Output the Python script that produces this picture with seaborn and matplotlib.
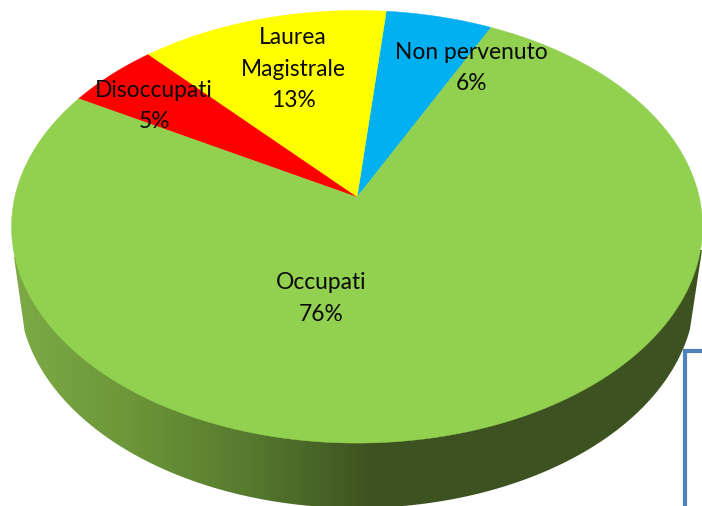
import numpy as np
import matplotlib
matplotlib.use("Agg")
import matplotlib.pyplot as plt
from matplotlib.colors import LinearSegmentedColormap
from matplotlib.patches import Polygon, Rectangle
import seaborn as sns

categories = ["Non pervenuto", "Laurea\nMagistrale", "Disoccupati", "Occupati"]
shares = [5.7, 13.3, 5.0, 76.0]
slice_colors = ["#00B0F0", "#FFFF00", "#FF0000", "#92D050"]

sns.set_theme(style="white")
plt.rcParams["font.family"] = ["Lato", "DejaVu Sans"]

W, H = 702, 506
fig = plt.figure(figsize=((W + 0.01) / 100, (H + 0.01) / 100), dpi=100, facecolor="white")
ax = fig.add_axes([0, 0, 1, 1])

palette = sns.color_palette(slice_colors)
wedges, _ = ax.pie(shares, colors=palette, startangle=63.9, counterclock=True)

# top face: projective view of the unit disc
CX, CY, RX, RY = 357.0, 226.8, 345.5, 216.3
APEX = (CY - 197.2) / RY


def project(theta_deg):
    t = np.radians(np.atleast_1d(theta_deg))
    x, y = np.cos(t), np.sin(t)
    d = 1 + APEX * y
    px = x * np.sqrt(1 - APEX ** 2) / d
    py = (y + APEX) / d
    return CX + RX * px, (H - CY) + RY * py


top_patches = []
for w, col in zip(wedges, palette):
    th = np.linspace(w.theta1, w.theta2, 400)
    xs, ys = project(th)
    xs = np.r_[CX, xs]
    ys = np.r_[H - CY + RY * APEX, ys]
    top_patches.append((np.c_[xs, ys], col))
    w.remove()

# side wall with horizontal gradient
BX, BY, BRX, BRY = 357.0, 292.0, 338.0, 216.0
t = np.radians(np.linspace(190.5, 350.0, 500))
wall = np.c_[BX + BRX * np.cos(t), (H - BY) + BRY * np.sin(t)]
wall = np.vstack([[14, H - 257], wall, [702, H - 250]])
wall_cmap = LinearSegmentedColormap.from_list(
    "wall",
    [(0.0, "#7DAA46"), (0.17, "#6C9639"), (0.34, "#577A2E"),
     (0.52, "#3D5221"), (1.0, "#3D5221")],
)
img = ax.imshow(np.linspace(0, 1, 700)[None, :], extent=(12, 702, 0, H),
                aspect="auto", cmap=wall_cmap, zorder=1, interpolation="bilinear")
clip = Polygon(wall, closed=True, transform=ax.transData, facecolor="none", edgecolor="none")
ax.add_patch(clip)
img.set_clip_path(clip)

for pts, col in top_patches:
    ax.add_patch(Polygon(pts, closed=True, facecolor=col, edgecolor=col, lw=0.3, zorder=2))

# blue frame of a neighbouring shape, cut by the image edge
ax.add_patch(Rectangle((685, -20), 60, H - 351 + 20, facecolor="none",
                       edgecolor="#4F81BD", lw=3.0, zorder=3))

# labels
label_xy = [(471, 68), (293, 69), (154, 106), (321, 298.5)]
for name, share, (lx, ly) in zip(categories, shares, label_xy):
    ax.text(lx, H - ly, f"{name}\n{share:.0f}%", ha="center", va="center",
            fontsize=16.4, color="#0A0A0A", linespacing=1.6, zorder=4)

ax.set_xlim(0, W)
ax.set_ylim(0, H)
ax.set_aspect("auto")
ax.axis("off")
fig.savefig("out.png", dpi=100, facecolor="white")
